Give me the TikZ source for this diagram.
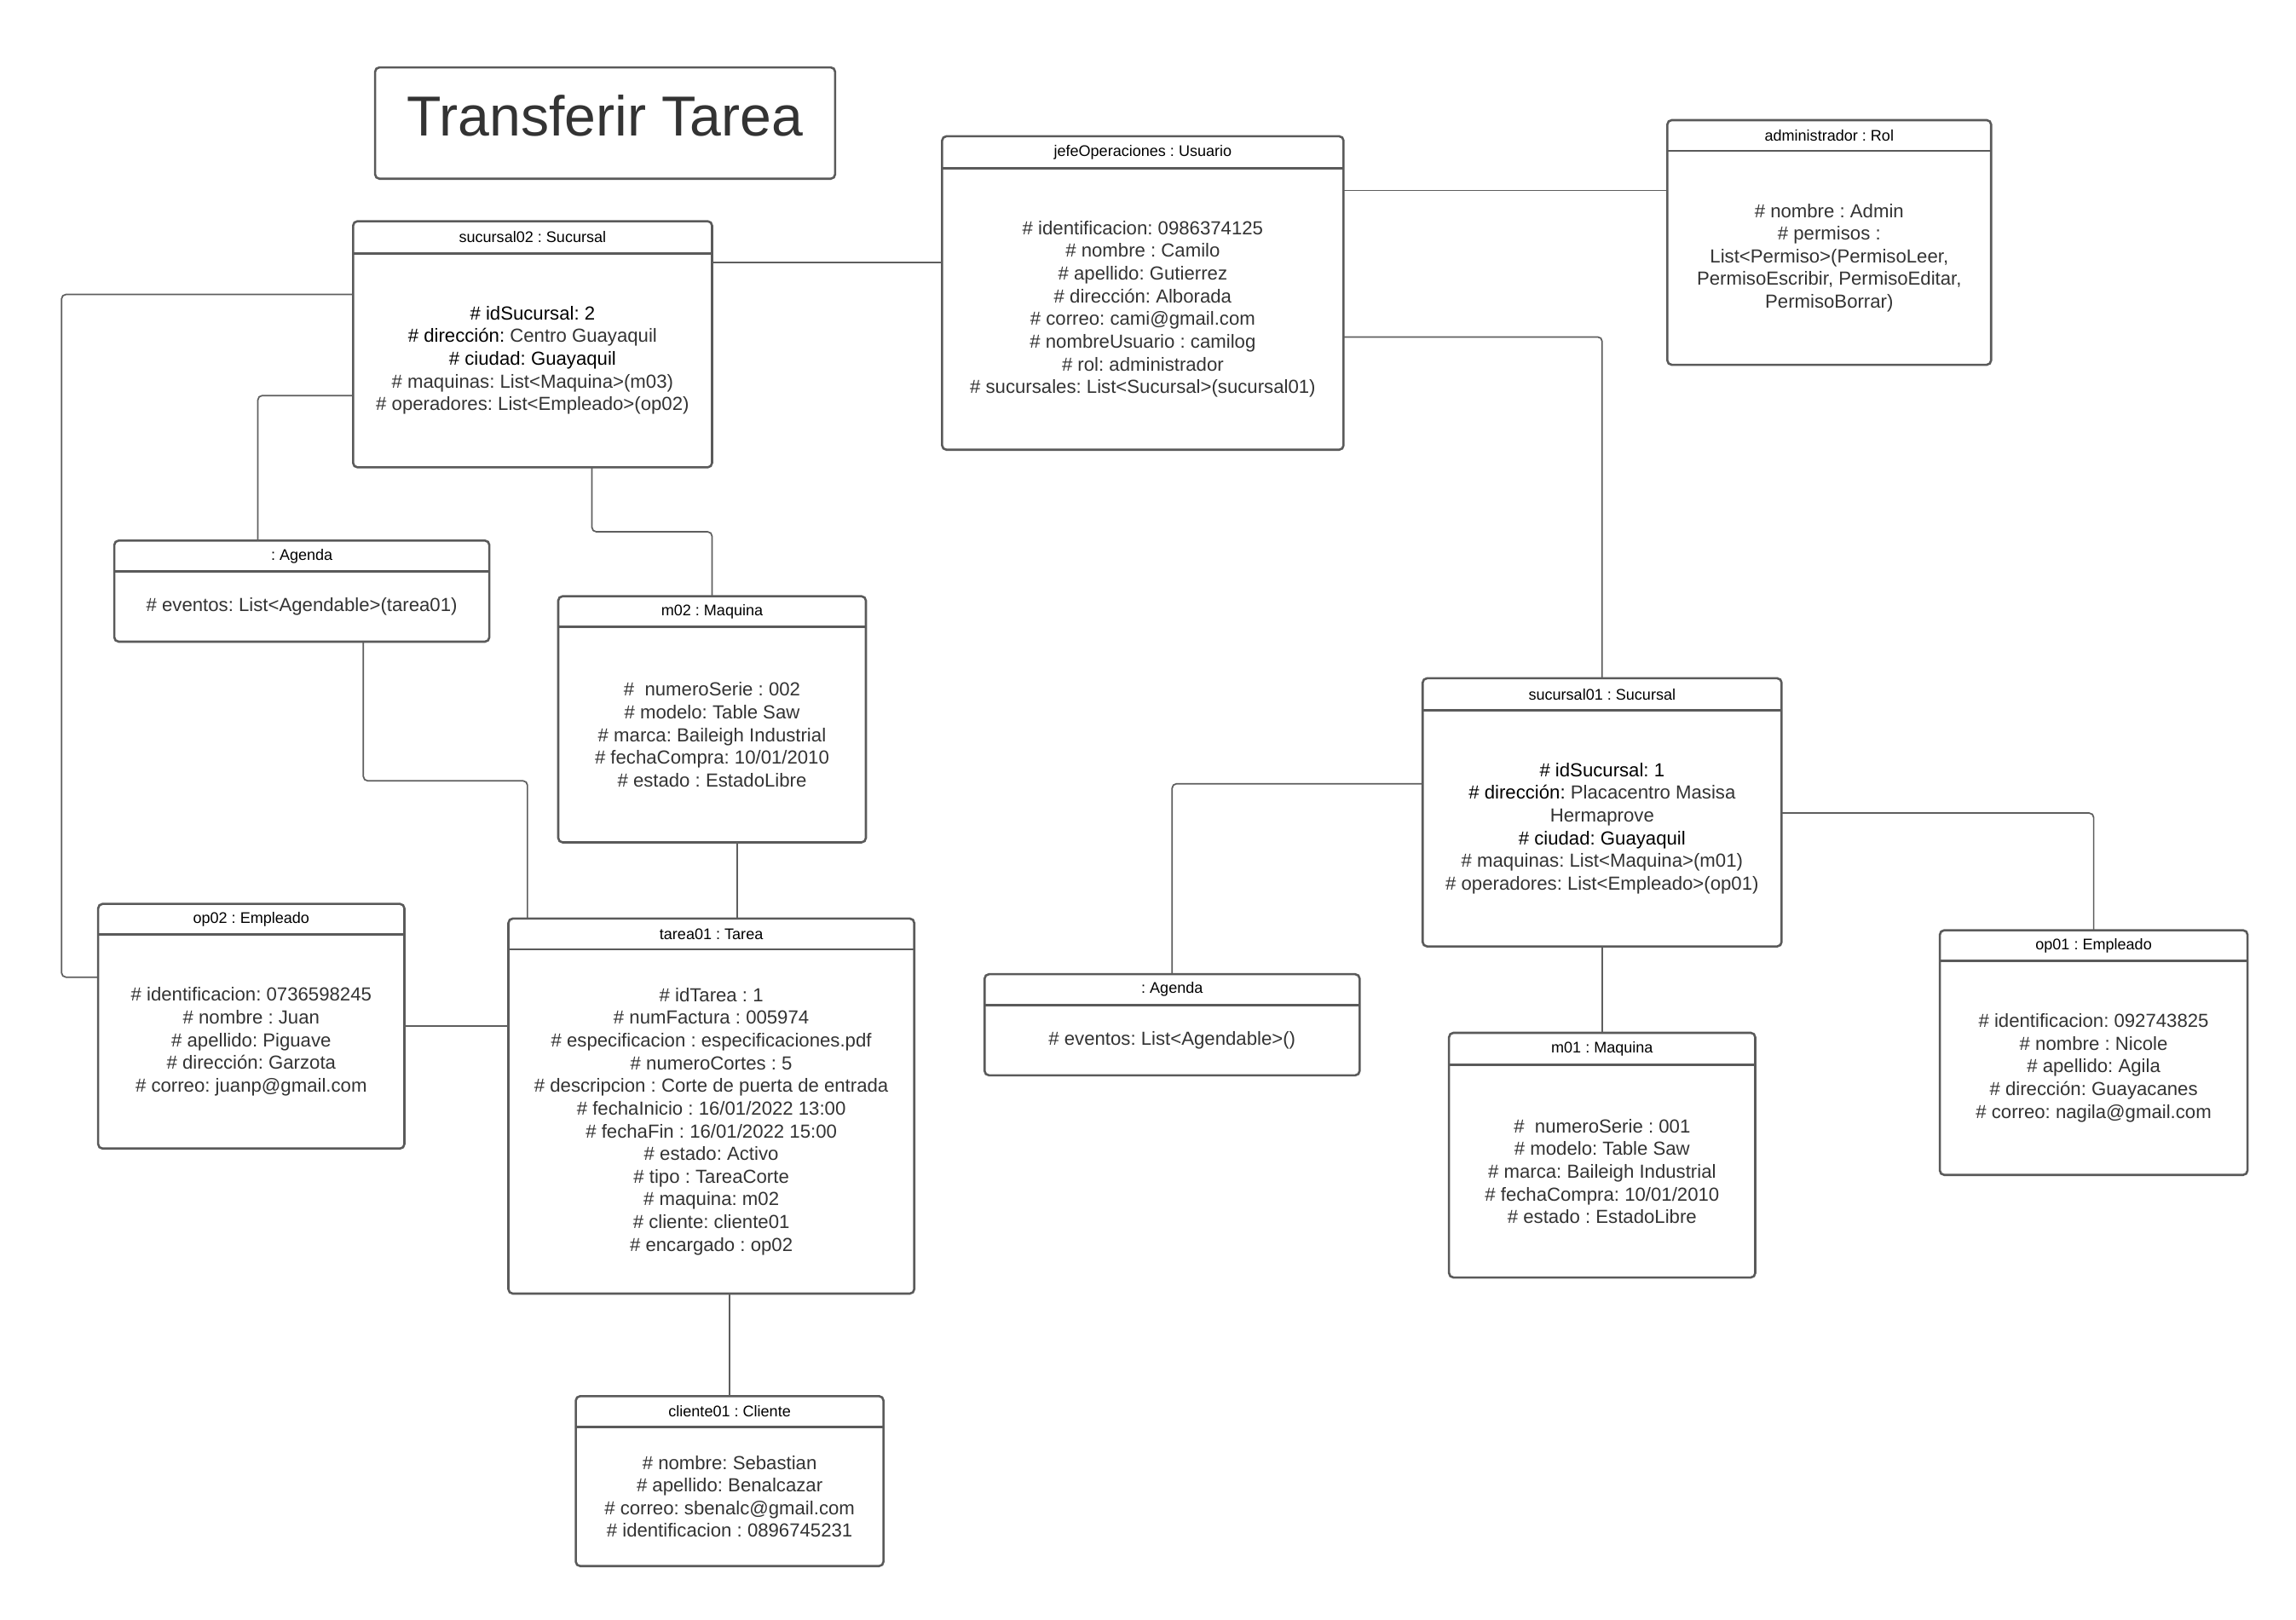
\documentclass[tikz,border=0pt]{standalone}
\usepackage{fontspec}
\setmainfont{Liberation Sans}
\usetikzlibrary{calc}
\definecolor{boxline}{HTML}{5A5A5A}
\definecolor{connline}{HTML}{5E5E5E}
\definecolor{txtgray}{HTML}{333333}
\tikzset{
  obj/.style={draw=boxline, line width=1.5pt, rounded corners=3pt, fill=white, outer sep=0pt, inner sep=0pt},
  sepline/.style={draw=boxline, line width=1.6pt},
  hdr/.style={font=\fontsize{10.5}{12.6}\selectfont, text=black, inner sep=0pt},
  bodytxt/.style={font=\fontsize{12.9}{15.5}\selectfont, text=txtgray, align=center, inner sep=0pt},
  conn/.style={draw=connline, line width=1pt, rounded corners=3pt},
  titlebox/.style={draw=boxline, line width=1.5pt, rounded corners=3pt, outer sep=0pt}
}
\newcommand{\umlobj}[8]{% name, cx, cy, w, h, header height, header, body
  \node[obj, minimum width=#4pt, minimum height=#5pt] (#1) at (#2,#3) {};
  \draw[sepline] ([yshift=-#6pt]#1.north west) -- ([yshift=-#6pt]#1.north east);
  \node[hdr] (#1-h) at ([yshift=-#6pt/2]#1.north) {#7};
  \node[bodytxt] (#1-b) at ($([yshift=-#6pt]#1.north)!0.5!(#1.south)$) {#8};
}
\newcommand{\bk}[1]{\textcolor{black}{#1}}
\begin{document}
\frenchspacing
\begin{tikzpicture}[x=1pt,y=-1pt]
\useasboundingbox[fill=white] (0,0) rectangle (1567.1,1105.3);

% title
\node[titlebox, minimum width=314pt, minimum height=76pt] (title) at (413,84) {};
\node[text=txtgray, font=\fontsize{38.5}{46}\selectfont, inner sep=0pt] (titletext) at ([yshift=5pt]title.center) {Transferir Tarea};

% objects
\umlobj{jefe}{780}{200}{274}{214}{22}{jefeOperaciones : Usuario}{%
\# identificacion: 0986374125\\
\# nombre : Camilo\\
\# apellido: Gutierrez\\
\# dirección: Alborada\\
\# correo: cami@gmail.com\\
\# nombreUsuario : camilog\\
\# rol: administrador\\
\# sucursales: List<Sucursal>(sucursal01)}

\umlobj{admin}{1248.5}{165.5}{221}{167}{21}{administrador : Rol}{%
\# nombre : Admin\\
\# permisos :\\
List<Permiso>(PermisoLeer,\\
PermisoEscribir, PermisoEditar,\\
PermisoBorrar)}

\umlobj{suc02}{363.5}{235}{245}{168}{22}{sucursal02 : Sucursal}{%
\bk{\# idSucursal: 2}\\
\bk{\# dirección:} Centro Guayaquil\\
\bk{\# ciudad: Guayaquil}\\
\# maquinas: List<Maquina>(m03)\\
\# operadores: List<Empleado>(op02)}

\umlobj{agL}{206}{403.5}{256}{69}{21}{: Agenda}{%
\# eventos: List<Agendable>(tarea01)}

\umlobj{m02}{486}{491}{210}{168}{21}{m02 : Maquina}{%
\#\ \ numeroSerie : 002\\
\# modelo: Table Saw\\
\# marca: Baileigh Industrial\\
\# fechaCompra: 10/01/2010\\
\# estado : EstadoLibre}

\umlobj{op02}{171.5}{700.5}{209}{167}{21}{op02 : Empleado}{%
\# identificacion: 0736598245\\
\# nombre : Juan\\
\# apellido: Piguave\\
\# dirección: Garzota\\
\# correo: juanp@gmail.com}

\umlobj{tarea}{485.5}{755}{277}{256}{21}{tarea01 : Tarea}{%
\# idTarea : 1\\
\# numFactura : 005974\\
\# especificacion : especificaciones.pdf\\
\# numeroCortes : 5\\
\# descripcion : Corte de puerta de entrada\\
\# fechaInicio : 16/01/2022 13:00\\
\# fechaFin : 16/01/2022 15:00\\
\# estado: Activo\\
\# tipo : TareaCorte\\
\# maquina: m02\\
\# cliente: cliente01\\
\# encargado : op02}

\umlobj{cli}{498}{1011}{210}{116}{21}{cliente01 : Cliente}{%
\# nombre: Sebastian\\
\# apellido: Benalcazar\\
\# correo: sbenalc@gmail.com\\
\# identificacion : 0896745231}

\umlobj{suc01}{1093.5}{554.5}{245}{183}{22}{sucursal01 : Sucursal}{%
\bk{\# idSucursal: 1}\\
\bk{\# dirección:} Placacentro Masisa\\
Hermaprove\\
\bk{\# ciudad: Guayaquil}\\
\# maquinas: List<Maquina>(m01)\\
\# operadores: List<Empleado>(op01)}

\umlobj{agR}{800}{699.5}{256}{69}{21}{: Agenda}{%
\# eventos: List<Agendable>()}

\umlobj{m01}{1093.5}{788.5}{209}{167}{22}{m01 : Maquina}{%
\#\ \ numeroSerie : 001\\
\# modelo: Table Saw\\
\# marca: Baileigh Industrial\\
\# fechaCompra: 10/01/2010\\
\# estado : EstadoLibre}

\umlobj{op01}{1429}{718.5}{210}{167}{21}{op01 : Empleado}{%
\# identificacion: 092743825\\
\# nombre : Nicole\\
\# apellido: Agila\\
\# dirección: Guayacanes\\
\# correo: nagila@gmail.com}

% connectors
\draw[conn] (suc02.east |- 0,179) -- (jefe.west |- 0,179);
\draw[conn] (jefe.east |- 0,130) -- (admin.west |- 0,130);
\draw[conn] (jefe.east |- 0,230) -| (suc01.north);
\draw[conn] (suc02.west |- 0,201) -- ++(-199,0) |- (op02.west |- 0,667);
\draw[conn] (suc02.west |- 0,270) -| (agL.north -| 176,0);
\draw[conn] (suc02.south -| 404,0) -- ++(0,44) -| (m02.north);
\draw[conn] (agL.south -| 248,0) -- ++(0,95) -| (tarea.north -| 360,0);
\draw[conn] (m02.south -| 503,0) -- (tarea.north -| 503,0);
\draw[conn] (op02.east |- 0,700.5) -- (tarea.west |- 0,700.5);
\draw[conn] (tarea.south -| cli.north) -- (cli.north);
\draw[conn] (suc01.west |- 0,535) -| (agR.north);
\draw[conn] (suc01.east |- 0,555) -| (op01.north);
\draw[conn] (suc01.south) -- (m01.north);
\end{tikzpicture}
\end{document}
